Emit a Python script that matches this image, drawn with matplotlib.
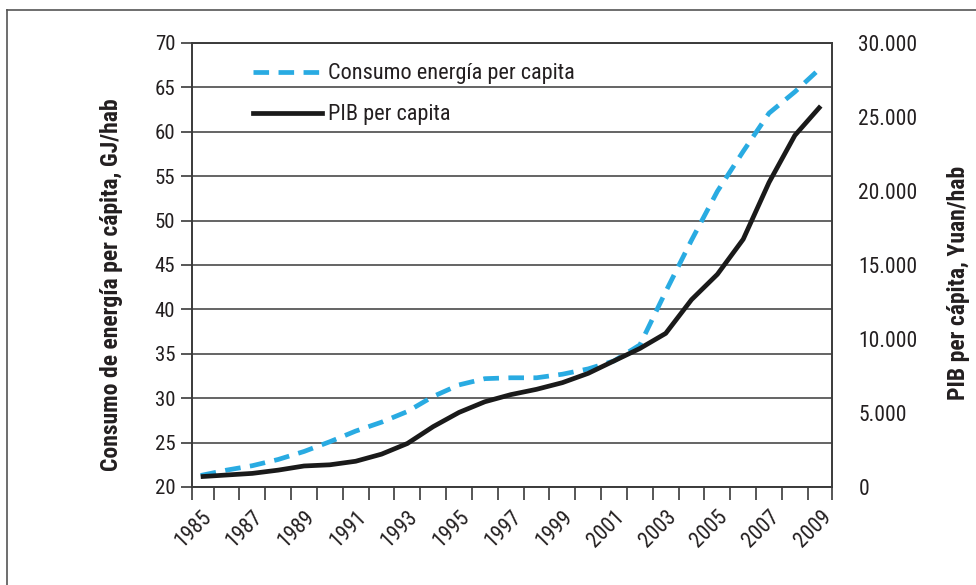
import matplotlib
matplotlib.use("Agg")
import matplotlib.pyplot as plt
from matplotlib import font_manager
from matplotlib.lines import Line2D
from matplotlib.ticker import FuncFormatter, FixedLocator

# ---------------- data ----------------
years = list(range(1985, 2010))
energia = [21.3, 21.9, 22.4, 23.1, 24.0, 25.1, 26.3, 27.3, 28.5, 30.2,
           31.5, 32.2, 32.3, 32.3, 32.7, 33.3, 34.2, 36.0, 42.0, 47.8,
           53.3, 57.8, 62.1, 64.5, 67.2]
pib = [700, 810, 920, 1140, 1420, 1500, 1740, 2220, 2940, 4080,
       5040, 5760, 6240, 6600, 7050, 7680, 8520, 9360, 10380, 12660,
       14370, 16740, 20580, 23760, 25740]
year_labels = [str(y) for y in range(1985, 2010, 2)]
left_ticks = list(range(20, 71, 5))
right_ticks = list(range(0, 30001, 5000))

# ---------------- fonts ----------------
names = {f.name for f in font_manager.fontManager.ttflist}
narrow = None
for cand in ["Liberation Sans Narrow", "Arial Narrow", "Roboto Condensed",
             "Open Sans Condensed"]:
    if cand in names:
        narrow = cand
        break
if narrow:
    base, k = narrow, 1.0
else:
    base, k = "Liberation Sans", 0.9
plt.rcParams['font.family'] = [base, 'DejaVu Sans']

FS_Y = 15.0 * k        # left tick labels
FS_R = 15.5 * k        # right tick labels
FS_X = 15.5 * k        # year labels
FS_LAB = 17.0 * k      # axis titles
FS_LEG = 16.0 * k      # legend

TXT = "#231f20"
BLUE = "#29abe2"
BLACK = "#1a1a1a"
GRID = "#3a3a3a"

W, H = 976, 585
fig = plt.figure(figsize=(W / 100, H / 100), dpi=100)
L, R, T, B = 192, 832, 43, 487
ax = fig.add_axes([L / W, 1 - B / H, (R - L) / W, (B - T) / H])
ax2 = ax.twinx()

x = list(range(len(years)))
LW = 3.4
DASH = (3.3, 2.0)
ax.plot(x, energia, color=BLUE, lw=LW, dashes=DASH, dash_capstyle='butt', zorder=3)
ax2.plot(x, pib, color=BLACK, lw=LW, solid_capstyle='butt', zorder=3)

xmin, xmax = -0.337, 24.437
ax.set_xlim(xmin, xmax)
ax.set_ylim(20, 70)
ax2.set_ylim(0, 30000)

# x ticks: category boundaries as major ticks, year labels at odd categories
ax.xaxis.set_major_locator(FixedLocator([xmin] + [i + 0.5 for i in range(24)] + [xmax]))
ax.set_xticklabels([])
ax.xaxis.set_minor_locator(FixedLocator(list(range(0, 25, 2))))
ax.set_xticklabels(year_labels, minor=True, rotation=45, ha='right', va='top',
                   rotation_mode='anchor', fontsize=FS_X, color=TXT)
ax.tick_params(axis='x', which='major', direction='out', length=9.5, width=1.2, color=GRID)
ax.tick_params(axis='x', which='minor', length=0, pad=14)

# left y
ax.set_yticks(left_ticks)
ax.tick_params(axis='y', which='major', direction='out', length=8, width=1.2, color=GRID,
               labelsize=FS_Y, labelcolor=TXT, pad=4)
ax.grid(axis='y', color=GRID, lw=1.1)
ax.set_axisbelow(True)

# right y
ax2.set_yticks(right_ticks)
ax2.yaxis.set_major_formatter(FuncFormatter(lambda v, p: f"{int(v):,}".replace(",", ".")))
ax2.tick_params(axis='y', which='major', length=0, labelsize=FS_R, labelcolor=TXT, pad=19)
ax2.yaxis.set_minor_locator(FixedLocator([0, 15000, 30000]))
ax2.tick_params(axis='y', which='minor', direction='out', length=8, width=1.2, color=GRID)

for a in (ax, ax2):
    for s in a.spines.values():
        s.set_color(GRID)
        s.set_linewidth(1.2)

ax.set_ylabel("Consumo de energía per cápita, GJ/hab", fontsize=FS_LAB,
              fontweight='bold', color=TXT)
ax.yaxis.set_label_coords(-0.108, 0.455)
ax2.set_ylabel("PIB per cápita, Yuan/hab", fontsize=FS_LAB, fontweight='bold', color=TXT)
ax2.yaxis.set_label_coords(1.18, 0.46)

handles = [Line2D([0], [0], color=BLUE, lw=LW, dashes=DASH),
           Line2D([0], [0], color=BLACK, lw=LW)]
fs_px = FS_LEG * 100 / 72
leg = ax2.legend(handles, ["Consumo energía per capita", "PIB per capita"],
                 loc='upper left', bbox_to_anchor=(0.095, 0.954), frameon=False,
                 fontsize=FS_LEG, handlelength=69 / fs_px, handletextpad=6 / fs_px,
                 labelspacing=0.9, borderpad=0, borderaxespad=0)
for t in leg.get_texts():
    t.set_color(TXT)

# outer frame (open at right and bottom)
fig.add_artist(Line2D([7 / W, 7 / W], [0, 1 - 10 / H], color="#555555", lw=1.2))
fig.add_artist(Line2D([7 / W, 1], [1 - 10 / H, 1 - 10 / H], color="#555555", lw=1.2))

fig.savefig("out.png", dpi=100)
